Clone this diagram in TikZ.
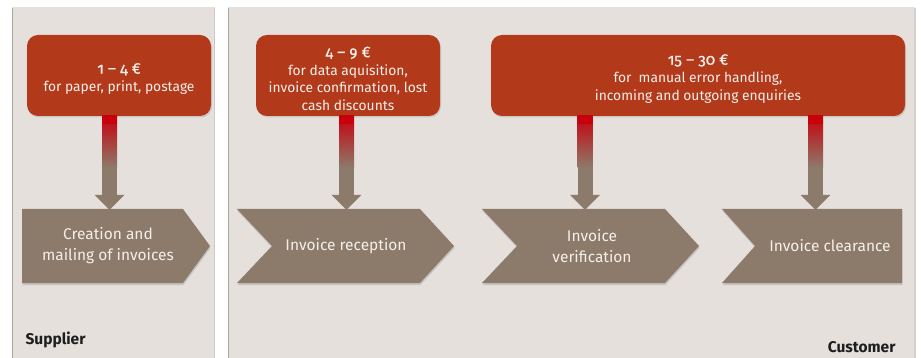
\documentclass[tikz,border=0pt]{standalone}
\usepackage{fontspec}
\setmainfont{Fira Sans}
\usetikzlibrary{arrows.meta,shadows,calc}
\definecolor{panelbg}{HTML}{E6E0DC}
\definecolor{paneledge}{HTML}{A8A4A2}
\definecolor{boxred}{HTML}{B23A1B}
\definecolor{arrred}{HTML}{C8000C}
\definecolor{chevbrown}{HTML}{8C7B6B}
\definecolor{lighttext}{HTML}{F5EFEA}
\definecolor{darktext}{HTML}{1E1E1E}
\tikzset{
  panel/.style={fill=panelbg, draw=none},
  edge/.style={draw=paneledge, line width=1.6pt},
  costbox/.style={fill=boxred, rounded corners=11pt, inner sep=0pt,
    minimum height=81pt, text=lighttext, align=center,
    font=\fontsize{13.8}{17.8}\selectfont,
    drop shadow={opacity=0.25, shadow xshift=1pt, shadow yshift=-1.5pt}},
  chev/.style={fill=chevbrown,
    drop shadow={opacity=0.3, shadow xshift=0.5pt, shadow yshift=-2pt}},
  chevtext/.style={text=lighttext, align=center,
    font=\fontsize{15.5}{21}\selectfont},
  costarrow/.style={draw=chevbrown, line width=15pt,
    -{Triangle[width=29pt,length=15pt]}},
  lanelabel/.style={text=darktext, font=\fontsize{15.5}{18}\selectfont\bfseries}
}
\newcommand{\amt}[1]{{\fontsize{15.5}{17.8}\selectfont\addfontfeatures{Numbers=OldStyle,FakeBold=0.5}\rule{0pt}{17pt}#1}}
\begin{document}
\begin{tikzpicture}[x=1pt,y=-1pt]
\useasboundingbox (0,0) rectangle (921,358);
% panels
\fill[white] (0,0) rectangle (921,358);
\path[panel] (12,7) rectangle (215,358);
\path[panel] (228,7) rectangle (915,358);
\draw[edge] (12.5,8) -- (12.5,358);
\draw[edge, draw=paneledge!60] (214.5,8) -- (214.5,358);
\draw[edge] (228.5,8) -- (228.5,358);
\draw[edge, draw=paneledge!50] (915,8) -- (915,358);

% cost boxes
\node[costbox, minimum width=184pt] (b1) at (119,75.5)
  {\amt{1 – 4 €}\\for paper, print, postage};
\node[costbox, minimum width=184pt] (b2) at (348,75.5)
  {\amt{4 – 9 €}\\for data aquisition,\\invoice confirmation, lost\\cash discounts};
\node[costbox, minimum width=414pt] (b3) at (698,75.5)
  {\amt{15 – 30 €}\\for\ \ manual error handling,\\incoming and outgoing enquiries};

% chevrons
\path[chev] (22,209) -- (183,209) -- (210,246) -- (183,283) -- (22,283) -- cycle;
\path[chev] (237,209) -- (420,209) -- (454,246) -- (420,283) -- (237,283) -- (272,246) -- cycle;
\path[chev] (482,209) -- (665,209) -- (699,246) -- (665,283) -- (482,283) -- (517,246) -- cycle;
\path[chev] (722,209) -- (902,209) -- (902,283) -- (722,283) -- (755,246) -- cycle;

\node[chevtext] (c1) at (108,246) {Creation and\\mailing of invoices};
\node[chevtext] (c2) at (346,246) {Invoice reception};
\node[chevtext] (c3) at (592,246) {Invoice\\verification};
\node[chevtext] (c4) at (830,246) {Invoice clearance};

\coordinate (t1) at (109.5,210);
\coordinate (t2) at (346.5,210);
\coordinate (t3) at (585,210);
\coordinate (t4) at (815.5,210);

% arrows
\foreach \b/\t in {b1/t1, b2/t2, b3/t3, b3/t4}{
  \draw[costarrow] (\b.south -| \t) -- (\t);
  \shade[top color=arrred, bottom color=chevbrown]
    ($(\b.south -| \t)+(-7.5,-0.5)$) rectangle ($(\t)+(7.5,-42)$);
  \fill[arrred] ($(\b.south -| \t)+(-7.5,-0.5)$) rectangle ($(\b.south -| \t)+(7.5,8)$);
}

% lane labels
\node[lanelabel, anchor=west] (sup) at (22,340) {Supplier};
\node[lanelabel, anchor=east] (cus) at (899,347) {Customer};
\end{tikzpicture}
\end{document}
